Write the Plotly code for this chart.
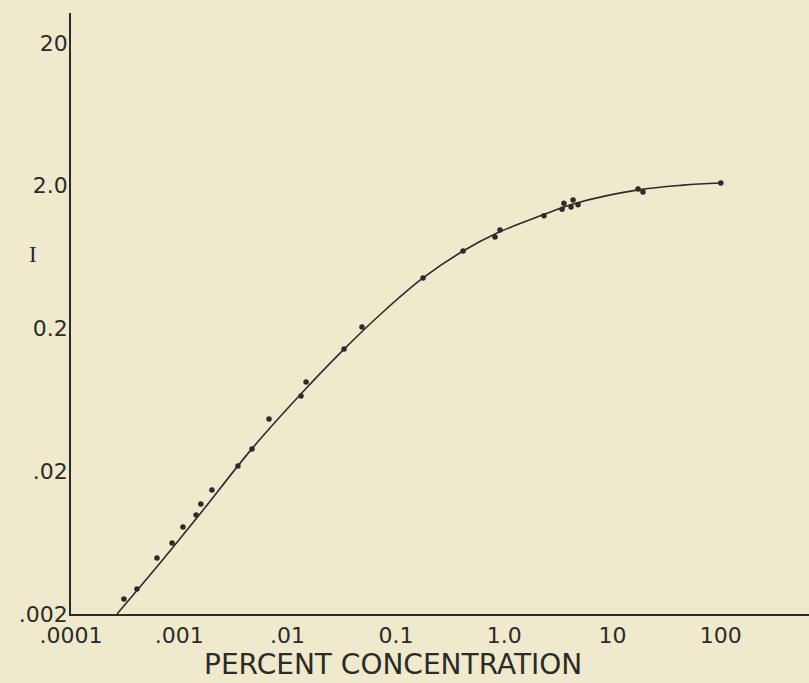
import plotly.graph_objects as go

# ---- data ----
conc_points = [3.08e-4, 4.06e-4, 6.22e-4, 8.57e-4, 1.08e-3, 1.43e-3, 1.58e-3, 2.00e-3,
               3.48e-3, 4.69e-3, 6.73e-3, 0.0133, 0.0148, 0.0332, 0.0486, 0.178, 0.417,
               0.822, 0.914, 2.33, 3.42, 3.56, 4.14, 4.32, 4.80, 17.2, 19.1, 100.0]
i_points = [0.00255, 0.00299, 0.00493, 0.00628, 0.00813, 0.00989, 0.0118, 0.0148,
            0.0218, 0.0286, 0.0465, 0.0673, 0.0843, 0.1435, 0.205, 0.452, 0.698,
            0.875, 0.980, 1.23, 1.37, 1.51, 1.42, 1.59, 1.47, 1.90, 1.81, 2.09]

conc_curve = [2.66e-4, 6.64e-4, 1.55e-3, 4.69e-3, 0.0130, 0.0325, 0.0760,
              0.178, 0.417, 0.859, 2.28, 4.32, 17.2, 44.8, 100.0]
i_curve = [0.002, 0.00455, 0.01003, 0.0288, 0.0684, 0.141, 0.261,
           0.452, 0.698, 0.933, 1.25, 1.49, 1.87, 2.02, 2.09]

x_tickvals = [1e-4, 1e-3, 1e-2, 1e-1, 1.0, 10.0, 100.0]
x_ticktext = [".0001", ".001", ".01", "0.1", "1.0", "10", "100"]
y_tickvals = [0.002, 0.02, 0.2, 2.0, 20.0]
y_ticktext = [".002", ".02", "0.2", "2.0", "20"]

x_title = "PERCENT CONCENTRATION"
y_title = "I"

# ---- style ----
BG = "rgb(239,233,205)"
INK = "rgb(45,43,38)"
FONT = "DejaVu Sans"

fig = go.Figure()
fig.add_trace(go.Scatter(x=conc_curve, y=i_curve, mode="lines",
                         line=dict(color=INK, width=1.6, shape="spline", smoothing=1.0),
                         hoverinfo="skip", showlegend=False))
fig.add_trace(go.Scatter(x=conc_points, y=i_points, mode="markers",
                         marker=dict(color=INK, size=5.5), showlegend=False))

fig.update_layout(
    width=809, height=683,
    margin=dict(l=71, r=0, t=13, b=69, pad=0),
    paper_bgcolor=BG, plot_bgcolor=BG,
    font=dict(family=FONT, color=INK, size=22),
    showlegend=False,
)
fig.update_xaxes(
    type="log", range=[-4, 2.814],
    tickvals=x_tickvals, ticktext=x_ticktext,
    showgrid=False, zeroline=False,
    showline=True, linecolor=INK, linewidth=2,
    ticks="", ticklabelstandoff=1,
    tickfont=dict(size=22, family=FONT, color=INK),
)
fig.update_yaxes(
    type="log", range=[-2.69897, 1.511],
    tickvals=y_tickvals, ticktext=y_ticktext,
    showgrid=False, zeroline=False,
    showline=True, linecolor=INK, linewidth=1.6,
    ticks="", ticklabelstandoff=-3,
    tickfont=dict(size=22, family=FONT, color=INK),
)
fig.add_annotation(text=x_title, xref="paper", yref="paper",
                   x=0.436, y=-0.1148, xanchor="center", yanchor="bottom",
                   showarrow=False, font=dict(size=28, family=FONT, color=INK))
fig.add_annotation(text=y_title, xref="paper", yref="paper",
                   x=-0.051, y=0.599, xanchor="center", yanchor="middle",
                   showarrow=False, font=dict(size=23, family="Liberation Serif", color=INK))

fig.write_html("out.html")
